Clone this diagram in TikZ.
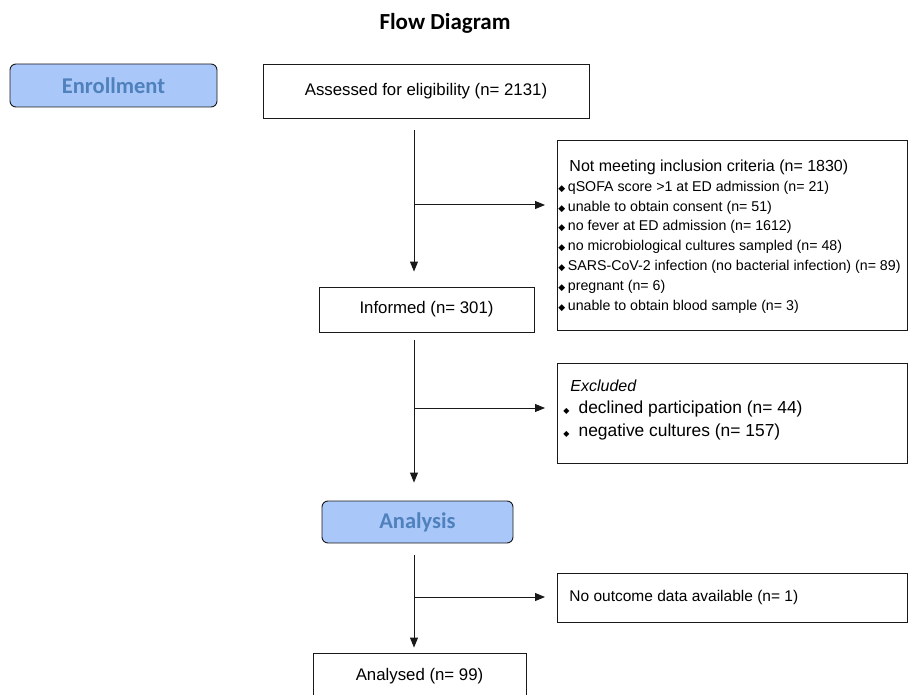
\documentclass[tikz,border=0pt]{standalone}
\usepackage{fontspec}
\setmainfont{Liberation Sans}
\newfontfamily\headfont{Carlito}
\newfontfamily\symfont{DejaVu Sans}
\usetikzlibrary{arrows.meta, positioning}
\definecolor{cHeadFill}{RGB}{170,199,250}
\definecolor{cHeadText}{RGB}{79,129,189}
\definecolor{cLine}{RGB}{25,25,25}
% small diamond bullets
\newcommand{\dmd}{{\symfont\fontsize{9}{9}\selectfont ◆}\hspace{2.5pt}}
\newcommand{\dmdwide}{{\symfont\fontsize{8}{8}\selectfont ◆}\hspace{9pt}}
\newcommand{\listfont}{\fontsize{14.2}{19.8}\selectfont}
\tikzset{
	phase/.style    ={rectangle, rounded corners=6pt, draw=cLine, line width=0.9pt, fill=cHeadFill, text=cHeadText, inner sep=0pt, font=\headfont\bfseries\fontsize{22.5}{27}\selectfont},
	countbox/.style ={rectangle, draw=cLine, line width=0.9pt, inner sep=0pt, font=\fontsize{16.8}{20}\selectfont},
	sidebox/.style  ={rectangle, draw=cLine, line width=0.9pt, inner sep=0pt, anchor=north west, font=\fontsize{17.4}{22.5}\selectfont},
	flowarrow/.style={-{Triangle[length=10pt, width=8pt]}, line width=1pt, cLine},
}
\begin{document}
\begin{tikzpicture}[x=1pt, y=-1pt]
	\clip (0,0) rectangle (908,695);
	\node[font=\headfont\bfseries\fontsize{23}{27}\selectfont] (title) at (445,23) {Flow Diagram};
	% phases
	\node[phase, minimum width=207pt, minimum height=43pt] (enroll) at (113.5,85.5) {Enrollment};
	\node[phase, minimum width=191pt, minimum height=42pt] (analysis) at (417.5,522) {Analysis};
	% main column
	\node[countbox, minimum width=326pt, minimum height=54pt] (assess) at (426,91) {Assessed for eligibility (n= 2131)};
	\node[countbox, minimum width=215pt, minimum height=45pt] (inform) at (426.5,309.5) {Informed (n= 301)};
	\node[countbox, minimum width=213pt, minimum height=46pt] (analysed) at (419.5,676) {Analysed (n= 99)};
	% side boxes
	\node[sidebox] (notmeet) at (557,140) {\parbox[c][190pt][t]{350pt}{%
		\hspace*{12pt}\rule{0pt}{31pt}\fontsize{16}{20}\selectfont Not meeting inclusion criteria (n= 1830)\par
		{\listfont
		\hspace*{1pt}\dmd qSOFA score >1 at ED admission (n= 21)\par
		\hspace*{1pt}\dmd unable to obtain consent (n= 51)\par
		\hspace*{1pt}\dmd no fever at ED admission (n= 1612)\par
		\hspace*{1pt}\dmd no microbiological cultures sampled (n= 48)\par
		\hspace*{1pt}\dmd SARS-CoV-2 infection (no bacterial infection) (n= 89)\par
		\hspace*{1pt}\dmd pregnant (n= 6)\par
		\hspace*{1pt}\dmd unable to obtain blood sample (n= 3)\par}}};
	\node[sidebox] (excl) at (557,363) {\parbox[c][100pt][t]{350pt}{%
		\hspace*{13pt}\rule{0pt}{28pt}{\fontsize{16}{20}\selectfont\itshape Excluded}\par
		\hspace*{6pt}\dmdwide declined participation (n= 44)\par
		\hspace*{6pt}\dmdwide negative cultures (n= 157)\par}};
	\node[sidebox] (noout) at (557,573) {\parbox[c][49pt][c]{350pt}{\fontsize{15.5}{19}\selectfont\hspace*{12pt}No outcome data available (n= 1)}};
	% spine and branches
	\coordinate (spine) at (414,0);
	\coordinate (b1) at (414,205);
	\coordinate (b2) at (414,408);
	\coordinate (b3) at (414,597);
	\draw[flowarrow, shorten <=12pt, shorten >=15pt] (assess.south -| spine) -- (inform.north -| spine);
	\draw[flowarrow, shorten <=8pt, shorten >=18pt] (inform.south -| spine) -- (analysis.north -| spine);
	\draw[flowarrow, shorten <=12pt, shorten >=5pt] (analysis.south -| spine) -- (analysed.north -| spine);
	\draw[flowarrow, shorten >=12pt] (b1) -- (b1 -| notmeet.west);
	\draw[flowarrow, shorten >=12pt] (b2) -- (b2 -| excl.west);
	\draw[flowarrow, shorten >=12pt] (b3) -- (b3 -| noout.west);
\end{tikzpicture}
\end{document}
